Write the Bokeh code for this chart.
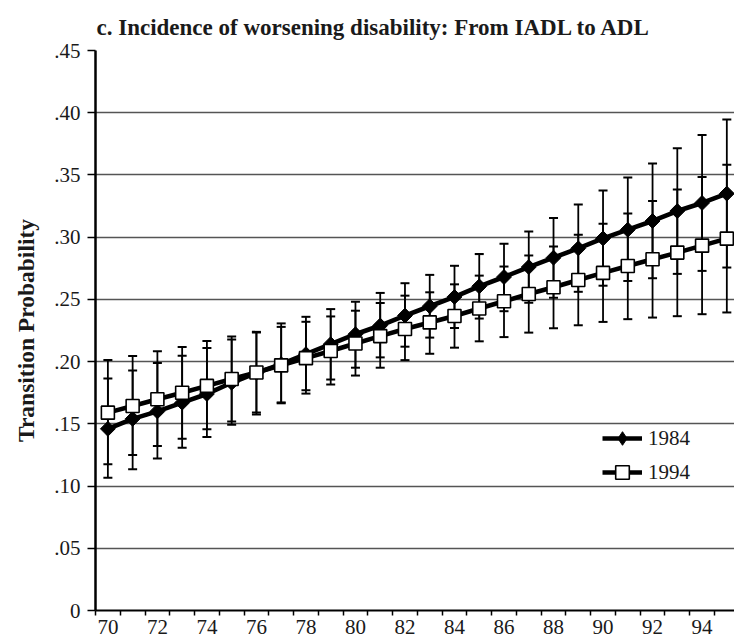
from bokeh.plotting import figure
from bokeh.models import (ColumnDataSource, Range1d, FixedTicker, Legend, LegendItem, Title)
from bokeh.embed import file_html
from bokeh.resources import INLINE
import math

# ---------------- data ----------------
years = list(range(70, 96))
mean_1984 = [.146, .154, .160, .167, .174, .183, .191, .198, .206, .214, .222, .229, .237,
             .2445, .252, .2605, .268, .276, .2835, .291, .299, .306, .313, .321, .3275, .335]
lo_1984 = [.1066, .1136, .1222, .1308, .1395, .1492, .1575, .1672, .177, .1856, .1951, .2034, .212,
           .2193, .227, .2346, .2405, .2473, .2513, .2561, .261, .2648, .267, .2705, .2729, .2756]
hi_1984 = [.1864, .1929, .1988, .2048, .2109, .2177, .2239, .2307, .236, .2422, .2481, .2552, .263,
           .2697, .277, .2864, .2947, .3045, .3155, .3263, .3376, .3479, .3592, .3714, .3821, .3945]
mean_1994 = [.159, .1643, .1697, .175, .1805, .186, .1913, .197, .2028, .2085, .2145, .2205, .2262,
             .2315, .2367, .2427, .2485, .2543, .2597, .2656, .2713, .2768, .2822, .2876, .2932, .2988]
lo_1994 = [.1176, .1249, .1322, .1381, .1457, .1519, .1591, .1665, .1743, .1816, .1888, .1951, .2012,
           .2063, .2112, .2163, .2197, .2233, .2268, .2292, .2319, .2341, .2354, .2365, .2381, .2395]
hi_1994 = [.2012, .2045, .2083, .2117, .2166, .2202, .2234, .2279, .232, .2363, .2409, .2471, .253,
           .2557, .2621, .2691, .2764, .2853, .2926, .302, .3107, .319, .329, .3384, .3484, .3581]

x_tick_years = list(range(70, 95, 2))
x_tick_labels = [str(y) for y in x_tick_years]
y_tick_values = [0, 0.05, 0.10, 0.15, 0.20, 0.25, 0.30, 0.35, 0.40, 0.45]
y_tick_labels = ["0", ".05", ".10", ".15", ".20", ".25", ".30", ".35", ".40", ".45"]
series_names = ["1984", "1994"]
title_text = "c. Incidence of worsening disability: From IADL to ADL"
y_title = "Transition Probability"

SERIF = "Liberation Serif"
TXT = "#1a1a1a"

src84 = ColumnDataSource(dict(x=years, y=mean_1984, lo=lo_1984, hi=hi_1984))
src94 = ColumnDataSource(dict(x=years, y=mean_1994, lo=lo_1994, hi=hi_1994))

p = figure(width=734, height=638, output_backend="svg", toolbar_location=None,
           x_range=Range1d(69.5, 95.31), y_range=Range1d(0, 0.45),
           min_border_left=95, min_border_right=0, min_border_top=50, min_border_bottom=28,
           title=None)
p.outline_line_color = None
p.background_fill_color = "white"
p.border_fill_color = "white"

p.add_layout(Title(text=title_text, text_font=SERIF, text_font_size="23px",
                   text_font_style="bold", text_color=TXT, align="left", offset=1,
                   standoff=22), "above")

# axes
xa = p.xaxis[0]
xa.ticker = FixedTicker(ticks=x_tick_years, minor_ticks=[y - 0.5 for y in years] + [95.5])
xa.major_label_overrides = {y: l for y, l in zip(x_tick_years, x_tick_labels)}
xa.major_tick_line_color = None
xa.major_tick_out = 0
xa.major_tick_in = 0
xa.minor_tick_out = 5
xa.minor_tick_in = 0
xa.minor_tick_line_color = "black"
xa.minor_tick_line_width = 1.5
xa.axis_line_color = "black"
xa.axis_line_width = 2
xa.major_label_standoff = 4
xa.major_label_text_font = SERIF
xa.major_label_text_font_size = "21px"
xa.major_label_text_color = TXT

ya = p.yaxis[0]
ya.ticker = FixedTicker(ticks=y_tick_values, minor_ticks=[])
ya.major_label_overrides = {v: l for v, l in zip(y_tick_values, y_tick_labels)}
ya.major_tick_out = 8
ya.major_tick_in = 0
ya.major_tick_line_width = 1.5
ya.minor_tick_line_color = None
ya.axis_line_color = "black"
ya.axis_line_width = 2.5
ya.major_label_standoff = 7
ya.major_label_text_font = SERIF
ya.major_label_text_font_size = "21px"
ya.major_label_text_color = TXT
ya.axis_label = y_title
ya.axis_label_text_font = SERIF
ya.axis_label_text_font_size = "23.5px"
ya.axis_label_text_font_style = "bold"
ya.axis_label_text_color = TXT
ya.axis_label_standoff = 12

p.xgrid.grid_line_color = None
p.ygrid.ticker = FixedTicker(ticks=y_tick_values)
p.ygrid.grid_line_color = "#555555"
p.ygrid.grid_line_width = 1.5

# error bars
for s in (src84, src94):
    p.segment(x0="x", y0="lo", x1="x", y1="hi", source=s, line_color="black", line_width=1.8)
    p.scatter(x="x", y="lo", source=s, marker="dash", size=9, line_color="black", line_width=2)
    p.scatter(x="x", y="hi", source=s, marker="dash", size=9, line_color="black", line_width=2)

l84 = p.line(x="x", y="y", source=src84, line_color="black", line_width=4.6)
l94 = p.line(x="x", y="y", source=src94, line_color="black", line_width=4.6)
m84 = p.scatter(x="x", y="y", source=src84, marker="square", angle=math.pi / 4, size=10.5,
                fill_color="black", line_color="black", line_width=1)
# diamond drawn inside the rotated square (same colour) so the legend shows a diamond
d84 = p.scatter(x="x", y="y", source=src84, marker="diamond", size=13,
                fill_color="black", line_color="black", line_width=1)
m94 = p.scatter(x="x", y="y", source=src94, marker="square", size=13,
                fill_color="white", line_color="black", line_width=1.6)

legend = Legend(items=[LegendItem(label=series_names[0], renderers=[l84, d84]),
                       LegendItem(label=series_names[1], renderers=[l94, m94])],
                location=(507, 121), orientation="vertical",
                glyph_width=40, glyph_height=34, label_height=34, label_standoff=6,
                spacing=0, padding=0, margin=0,
                border_line_color=None, background_fill_alpha=0,
                label_text_font=SERIF, label_text_font_size="21px", label_text_color=TXT)
p.add_layout(legend, "center")

open("out.html", "w").write(file_html(p, INLINE))
